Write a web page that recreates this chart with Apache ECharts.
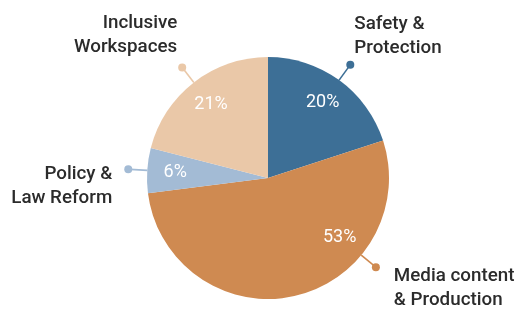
<!DOCTYPE html>
<html>
<head>
<meta charset="utf-8">
<script src="https://cdn.jsdelivr.net/npm/echarts@6/dist/echarts.min.js"></script>
<style>
  html, body { margin: 0; padding: 0; background: #fff; }
  #chart { width: 517px; height: 310px; }
</style>
</head>
<body>
<div id="chart"></div>
<script>
  // slice data
  var names = ['Safety &\nProtection', 'Media content\n& Production', 'Policy &\nLaw Reform', 'Inclusive\nWorkspaces'];
  var shares = [20, 53, 6, 21];
  var colors = ['#3d6f96', '#cf8a51', '#a3bbd5', '#eac8a8'];

  // label layout (angle shift in percent units, name offset from dot)
  var labelShift = [0, -10.5, 0, 0];
  var nameOffset = [[4, -28, 'left'], [18, 21, 'left'], [-16, 17, 'right'], [-5, -32, 'right']];

  var center = [268, 178];
  var pieR = 121, dotR = 140, pctR = 93;

  var midAngles = [];
  var acc = 0;
  shares.forEach(function (v, i) {
    midAngles.push(acc + v / 2 + labelShift[i]);
    acc += v;
  });

  var chart = echarts.init(document.getElementById('chart'));

  var option = {
    animation: false,
    polar: { center: center, radius: 150 },
    radiusAxis: { type: 'value', min: 0, max: 150, show: false },
    angleAxis: { type: 'value', min: 0, max: 100, startAngle: 90, clockwise: true, show: false },
    series: [
      {
        type: 'pie',
        center: center,
        radius: pieR,
        startAngle: 90,
        clockwise: true,
        z: 1,
        label: { show: false },
        labelLine: { show: false },
        itemStyle: { borderWidth: 0 },
        data: shares.map(function (v, i) {
          return { name: names[i], value: v, itemStyle: { color: colors[i] } };
        })
      },
      {
        type: 'custom',
        coordinateSystem: 'polar',
        z: 10,
        data: shares.map(function (v, i) { return [v, i]; }),
        renderItem: function (params, api) {
          var i = params.dataIndex;
          var a = midAngles[i];
          var p0 = api.coord([pieR, a]);
          var p1 = api.coord([dotR - 2, a]);
          var pd = api.coord([dotR, a]);
          var pp = api.coord([pctR, a]);
          var off = nameOffset[i];
          return {
            type: 'group',
            children: [
              { type: 'line', shape: { x1: p0[0], y1: p0[1], x2: p1[0], y2: p1[1] },
                style: { stroke: colors[i], lineWidth: 1.6 } },
              { type: 'circle', shape: { cx: pd[0], cy: pd[1], r: 4 },
                style: { fill: colors[i] } },
              { type: 'text', x: pp[0], y: pp[1], z2: 20,
                style: { text: shares[i] + '%', fill: '#ffffff', fontSize: 18, fontWeight: 400,
                  fontFamily: 'Roboto', align: 'center', verticalAlign: 'middle' } },
              { type: 'text', x: pd[0] + off[0], y: pd[1] + off[1],
                style: { text: names[i], fill: '#2b2b2b', fontSize: 18.8, fontWeight: 500,
                  fontFamily: 'Roboto', lineHeight: 24, align: off[2], verticalAlign: 'middle' } }
            ]
          };
        }
      }
    ]
  };
  option && chart.setOption(option);
</script>
</body>
</html>
